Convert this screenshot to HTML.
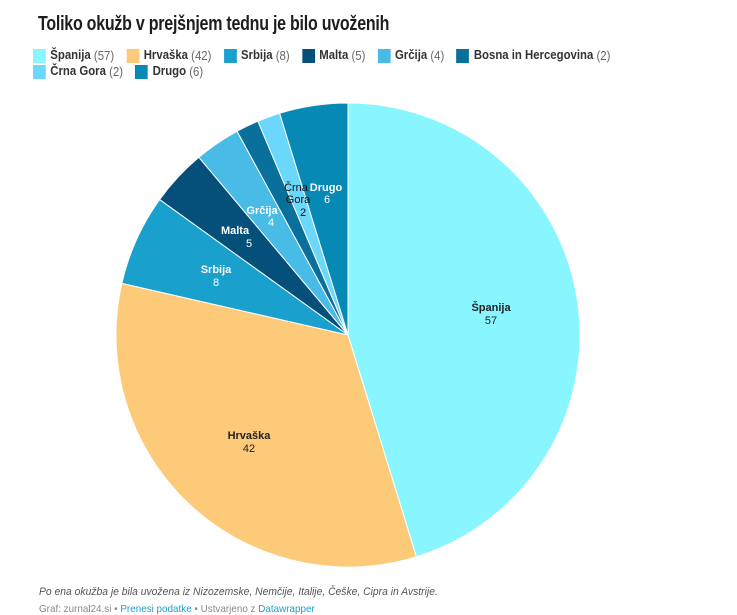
<!DOCTYPE html>
<html><head><meta charset="utf-8"><style>
body{margin:0;width:737px;height:611px;background:#fff;font-family:"Liberation Sans",sans-serif;overflow:hidden;position:relative}
h1{position:absolute;left:38px;top:13px;margin:0;font-size:20px;font-weight:bold;color:#1d1d1d;letter-spacing:-0.3px;transform:scaleX(0.8);transform-origin:0 0;white-space:nowrap}
.lg{position:absolute;font-size:12.5px;color:#333;white-space:nowrap;transform:scaleX(0.91);transform-origin:0 0}
.lg span{display:inline-block;vertical-align:middle}
.sw{width:14px;height:14px;margin-right:5px}
.it{margin-right:10px}
.n{color:#666}
.note{position:absolute;left:39px;top:586px;font-size:11px;font-style:italic;color:#555;transform:scaleX(0.94);transform-origin:0 0;white-space:nowrap}
.src{position:absolute;left:39px;top:603px;font-size:10.5px;color:#888;transform:scaleX(0.94);transform-origin:0 0;white-space:nowrap}
.src a{color:#1aa0cd;text-decoration:none}
</style></head><body>
<h1>Toliko okužb v prejšnjem tednu je bilo uvoženih</h1>
<div class="lg" style="left:33px;top:48px">
<span class="sw" style="background:#88f5ff"></span><span class="it"><b>Španija</b> <span class="n">(57)</span></span>
<span class="sw" style="background:#fdca7a"></span><span class="it"><b>Hrvaška</b> <span class="n">(42)</span></span>
<span class="sw" style="background:#1aa0cd"></span><span class="it"><b>Srbija</b> <span class="n">(8)</span></span>
<span class="sw" style="background:#04507a"></span><span class="it"><b>Malta</b> <span class="n">(5)</span></span>
<span class="sw" style="background:#48bbe6"></span><span class="it"><b>Grčija</b> <span class="n">(4)</span></span>
<span class="sw" style="background:#08709a"></span><span class="it"><b>Bosna in Hercegovina</b> <span class="n">(2)</span></span>
</div>
<div class="lg" style="left:33px;top:64px">
<span class="sw" style="background:#6ad7fb"></span><span class="it"><b>Črna Gora</b> <span class="n">(2)</span></span>
<span class="sw" style="background:#0789b5"></span><span class="it"><b>Drugo</b> <span class="n">(6)</span></span>
</div>
<svg id="pie" width="737" height="611" style="position:absolute;left:0;top:0">
<g id="sl"></g>
<g font-family="Liberation Sans, sans-serif" font-size="11" text-anchor="middle">
<text x="491" y="311" font-weight="bold" fill="#222">Španija</text><text x="491" y="324" fill="#222">57</text>
<text x="249" y="439" font-weight="bold" fill="#222">Hrvaška</text><text x="249" y="452" fill="#222">42</text>
<g fill="#fff"><text x="216" y="273" font-weight="bold">Srbija</text><text x="216" y="286">8</text>
<text x="235" y="234" font-weight="bold">Malta</text><text x="249" y="247">5</text>
<text x="262" y="214" font-weight="bold">Grčija</text><text x="271" y="226">4</text>
<text x="326" y="191" font-weight="bold">Drugo</text><text x="327" y="203">6</text></g>
<g fill="#111"><text x="296" y="191">Črna</text><text x="298" y="203">Gora</text><text x="303" y="216">2</text></g>
</g>
</svg>
<div class="note">Po ena okužba je bila uvožena iz Nizozemske, Nemčije, Italije, Češke, Cipra in Avstrije.</div>
<div class="src">Graf: zurnal24.si • <a>Prenesi podatke</a> • Ustvarjeno z <a>Datawrapper</a></div>
<script>
var d=[[57,"#88f5ff"],[42,"#fdca7a"],[8,"#1aa0cd"],[5,"#04507a"],[4,"#48bbe6"],[2,"#08709a"],[2,"#6ad7fb"],[6,"#0789b5"]];
var cx=348,cy=335,r=232,t=126,a=0,g=document.getElementById("sl"),s="";
d.forEach(function(e){var b=a+e[0]/t*2*Math.PI;
var x1=cx+r*Math.sin(a),y1=cy-r*Math.cos(a),x2=cx+r*Math.sin(b),y2=cy-r*Math.cos(b);
s+='<path d="M'+cx+' '+cy+'L'+x1+' '+y1+'A'+r+' '+r+' 0 '+((b-a)>Math.PI?1:0)+' 1 '+x2+' '+y2+'Z" fill="'+e[1]+'" stroke="#fff" stroke-width="1"/>';a=b;});
g.innerHTML=s;
</script>
</body></html>
